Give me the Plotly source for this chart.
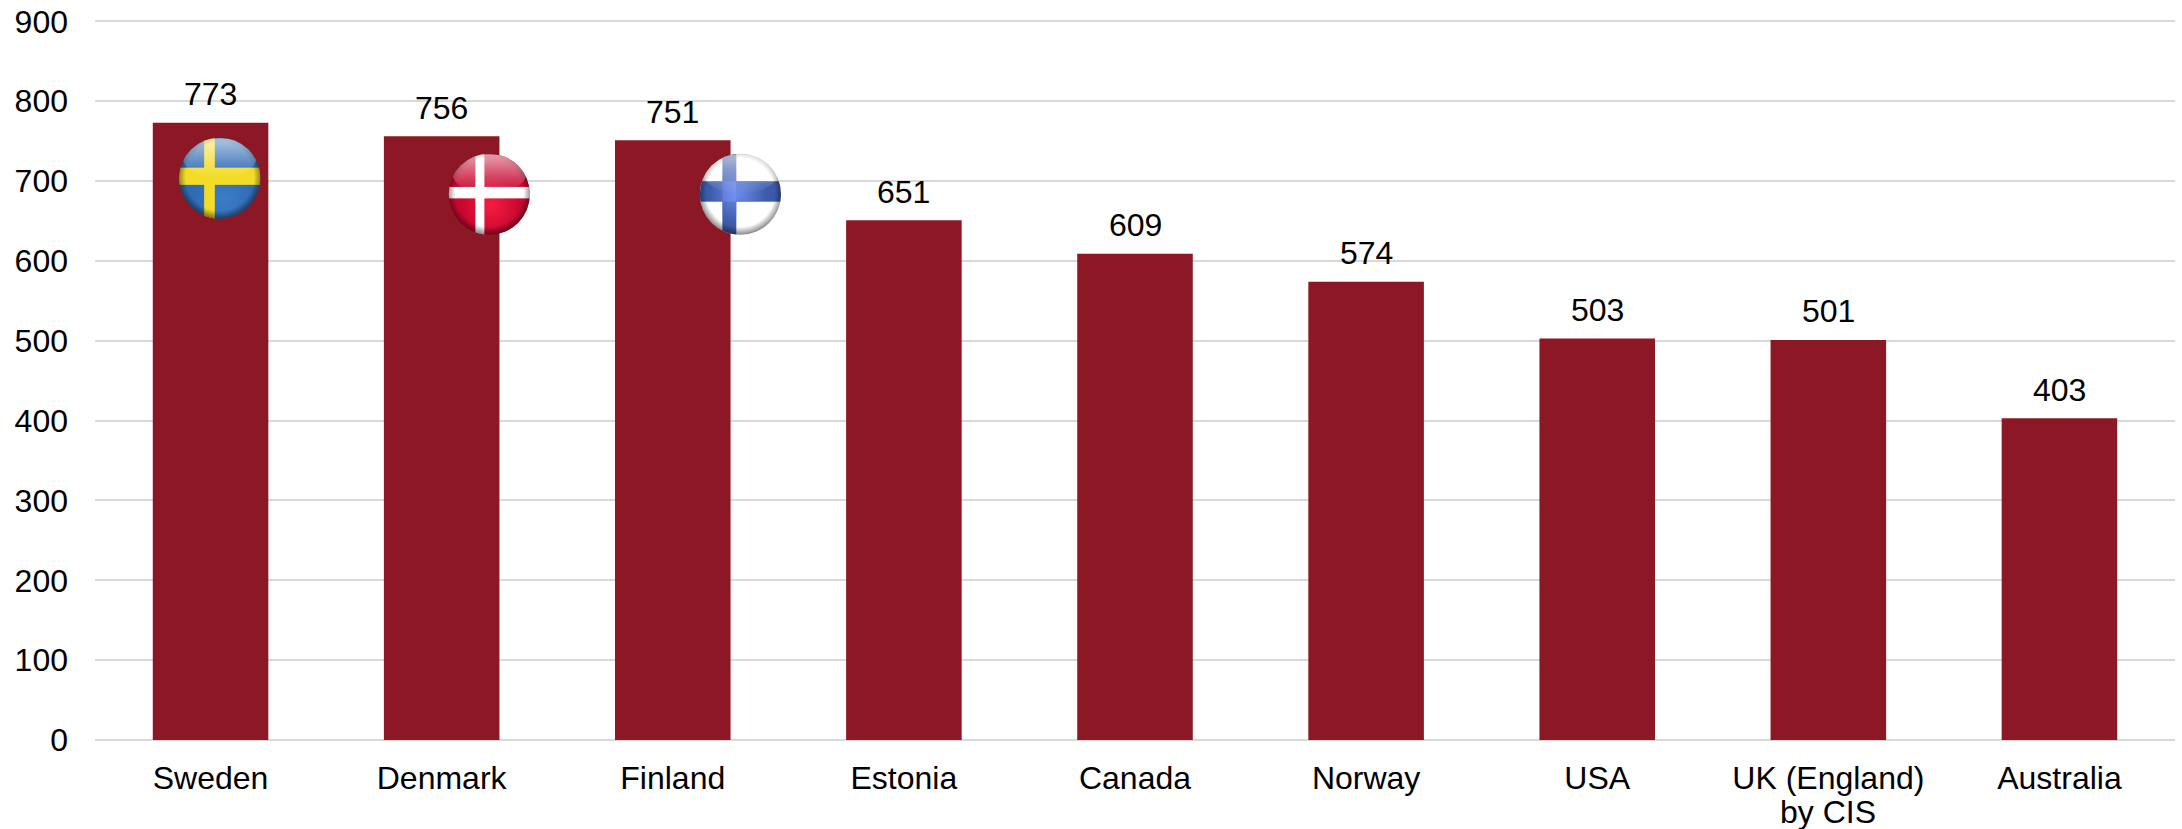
import base64
import plotly.graph_objects as go

categories = ["Sweden", "Denmark", "Finland", "Estonia", "Canada", "Norway", "USA", "UK (England)", "Australia"]
second_line_category = "UK (England)"
second_line_text = "by CIS"
values = [773, 756, 751, 651, 609, 574, 503, 501, 403]
y_ticks = [0, 100, 200, 300, 400, 500, 600, 700, 800, 900]

W, H = 2182, 829
L, R, B = 95.3, 2174.6, 740
PX_PER_UNIT = 719 / 900
Y_MAX = 903
T = B - Y_MAX * PX_PER_UNIT


def globe(base, glow_shape, top, glow, cx, cy):
    svg = f"""<svg xmlns='http://www.w3.org/2000/svg' width='240' height='240' viewBox='0 0 100 100'>
<defs><clipPath id='c'><circle cx='50' cy='50' r='49.5'/></clipPath>
<linearGradient id='top' x1='0' y1='0' x2='0' y2='1'><stop offset='0' stop-color='#fff' stop-opacity='.62'/><stop offset='.65' stop-color='#fff' stop-opacity='.2'/><stop offset='1' stop-color='#fff' stop-opacity='0'/></linearGradient>
<radialGradient id='glow' gradientUnits='userSpaceOnUse' cx='{cx}' cy='{cy}' r='36'><stop offset='0' stop-color='{glow}' stop-opacity='.85'/><stop offset='1' stop-color='{glow}' stop-opacity='0'/></radialGradient>
<radialGradient id='edge' cx='.5' cy='.48' r='.52'><stop offset='.8' stop-color='#000' stop-opacity='0'/><stop offset='1' stop-color='#000' stop-opacity='.5'/></radialGradient></defs>
<g clip-path='url(#c)'>{base}<g fill='url(#glow)'>{glow_shape}</g>{top}<rect width='100' height='100' fill='url(#edge)'/><ellipse cx='50' cy='25' rx='45' ry='24' fill='url(#top)'/></g></svg>"""
    return "data:image/svg+xml;base64," + base64.b64encode(svg.encode()).decode()


FULL = "<rect width='100' height='100'/>"
FIN_CROSS = "<rect y='34' width='100' height='25'/><rect x='28' width='17' height='100'/>"
sweden = globe("<rect width='100' height='100' fill='#2f6cb4'/>", FULL,
               "<rect y='37' width='100' height='21' fill='#f2dc28'/><rect x='31' width='13' height='100' fill='#f2dc28'/>",
               "#3f80cc", 55, 75)
denmark = globe("<rect width='100' height='100' fill='#c8072f'/>", FULL,
                "<rect x='33' width='11' height='100' fill='#fff'/><rect y='41' width='100' height='14' fill='#fff'/>",
                "#ff1f44", 52, 64)
finland = globe(f"<rect width='100' height='100' fill='#fff'/><g fill='#3c5aa8'>{FIN_CROSS}</g>", FIN_CROSS, "",
                "#7492f5", 47, 50)
flags = [(sweden, 220, 178), (denmark, 489.5, 194), (finland, 740.5, 194)]
flag_size = 82

font = dict(family="Liberation Sans, Arial, sans-serif", size=32, color="#000000")
positions = list(range(len(categories)))
fig = go.Figure(go.Bar(
    x=positions, y=values, width=0.5,
    marker=dict(color="#8b1824", line=dict(width=0)),
))

annotations = [dict(x=p, y=v, text=str(v), showarrow=False, xanchor="center", yanchor="middle",
                    yshift=28.5, font=font) for p, v in zip(positions, values)]
annotations.append(dict(x=categories.index(second_line_category), xref="x", y=0, yref="y", text=second_line_text,
                        showarrow=False, xanchor="center", yanchor="middle", yshift=-72, font=font))

fig.update_layout(
    width=W, height=H, autosize=False, showlegend=False,
    paper_bgcolor="#ffffff", plot_bgcolor="#ffffff",
    margin=dict(l=L, r=W - R, t=T, b=H - B, pad=0),
    font=font,
    annotations=annotations,
    images=[dict(source=s, xref="paper", yref="paper", xanchor="center", yanchor="middle",
                 x=(cx - L) / (R - L), y=(B - cy) / (B - T),
                 sizex=flag_size / (R - L), sizey=flag_size / (B - T), sizing="stretch", layer="above")
            for s, cx, cy in flags],
    xaxis=dict(range=[-0.5, 8.5], tickmode="array", tickvals=positions, ticktext=categories,
               showgrid=False, zeroline=False, showline=False, ticks="", tickfont=font, automargin=False,
               ticklabelstandoff=16),
    yaxis=dict(range=[0, Y_MAX], tickmode="array", tickvals=y_ticks, showgrid=True, gridcolor="#d9d9d9", gridwidth=2,
               zeroline=True, zerolinecolor="#d9d9d9", zerolinewidth=2, showline=False, ticks="", tickfont=font,
               ticklabelstandoff=26, automargin=False, ticklabeloverflow="allow"),
)
fig.write_html("out.html", config=dict(displayModeBar=False),
               post_script="document.body.style.margin='0';document.documentElement.style.overflow='hidden';")
